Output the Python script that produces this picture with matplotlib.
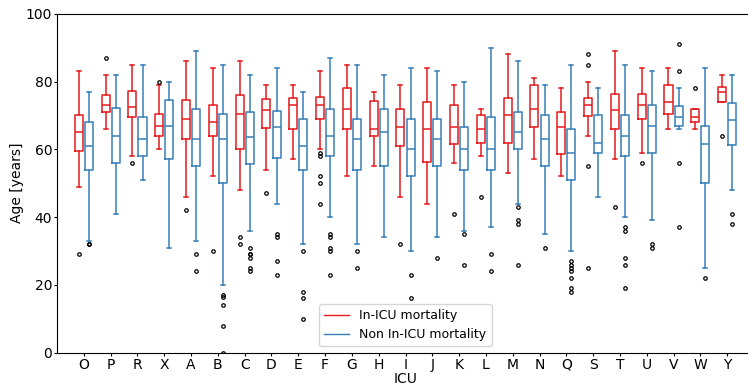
import matplotlib
matplotlib.use("Agg")
import matplotlib.pyplot as plt
from matplotlib.lines import Line2D

icus = ["O", "P", "R", "X", "A", "B", "C", "D", "E", "F", "G", "H", "I",
        "J", "K", "L", "M", "N", "Q", "S", "T", "U", "V", "W", "Y"]

# in-ICU mortality: whisker low, q1, median, q3, whisker high, outliers
dead_lo = [49, 66, 58, 60, 46, 52, 48, 54, 57, 60, 52, 55, 46,
           44, 56, 58, 53, 57, 52, 64, 57, 59, 66, 66, 74]
dead_q1 = [59.5, 71, 69.4, 64, 63, 63.8, 60, 66.3, 66, 69, 66, 64, 61,
           56.4, 61.5, 62, 62, 66.5, 58.7, 69.7, 66, 68.8, 70.5, 68.2, 74]
dead_med = [65, 73, 72.6, 67, 69, 68, 70.5, 71.5, 73, 73, 72, 66, 66.5,
            66, 66.5, 66, 70, 72, 66.5, 73, 71.5, 73, 74, 69.6, 77]
dead_q3 = [70, 76, 77.3, 70.3, 74.5, 73, 76, 74.7, 75, 75.5, 78, 74.2, 72,
           74, 73, 70, 75, 79, 71, 75, 76.2, 76.2, 79, 72, 78.5]
dead_hi = [83, 82, 85, 79, 86, 84, 86, 79, 79, 83, 85, 77, 79,
           84, 79, 72, 88, 81, 78, 80, 89, 84, 84, 72, 82]
dead_out = [[29], [87], [56], [80], [42], [30], [34, 32], [47], [], [59, 58, 52, 50, 44], [], [], [32],
            [], [41], [46], [], [], [], [88, 85, 55, 25], [43], [56], [], [78], [64]]

# survivors
alive_lo = [33, 41, 51, 31, 33, 20, 36, 44, 32, 40, 32, 34, 30,
            34, 36, 37, 44, 35, 30, 46, 40, 39, 66, 25, 48]
alive_q1 = [54, 56, 58, 57, 55, 50, 55.8, 57.5, 54, 58, 54, 55, 52,
            55, 54, 54, 60, 55, 51, 59, 58, 59, 67, 50, 61.2]
alive_med = [61, 64, 63, 67, 63, 63, 63.5, 66.5, 61, 64, 63, 65, 60,
             63, 60, 60, 65, 63, 59, 62, 64, 67, 69.4, 61.5, 68.5]
alive_q3 = [68, 72.3, 69.4, 74.5, 72, 70.5, 71, 71.3, 69, 72, 69, 72, 69,
            69, 66.5, 69.4, 71, 70, 66, 70, 70, 73, 72.7, 67, 73.7]
alive_hi = [77, 82, 85, 80, 89, 85, 82, 84, 77, 87, 85, 82, 84,
            83, 80, 90, 86, 79, 85, 78, 85, 83, 78, 84, 82]
alive_out = [[32, 32], [], [], [], [29, 24], [17, 16.4, 14, 8, 0], [31, 29, 29, 28, 25, 24],
             [35, 34, 27, 23], [30, 18, 16, 10], [35, 34, 31, 30, 23], [30, 25], [], [23, 16],
             [28], [35, 26], [29, 24], [43, 39, 38, 26], [31], [27, 26, 25, 24, 22, 19, 18],
             [], [37, 36, 28, 26, 19], [32, 31], [91, 83, 56, 37], [22], [41, 38]]

RED = "#e41a1c"
BLUE = "#377eb8"


def make_stats(lo, q1, med, q3, hi, out):
    return [dict(whislo=a, q1=b, med=c, q3=d, whishi=e, fliers=f)
            for a, b, c, d, e, f in zip(lo, q1, med, q3, hi, out)]


def style(color):
    return dict(
        boxprops=dict(color=color, linewidth=1.1),
        medianprops=dict(color=color, linewidth=1.1),
        whiskerprops=dict(color=color, linewidth=1.1),
        capprops=dict(color=color, linewidth=1.1),
        flierprops=dict(marker="o", markersize=2.5, markerfacecolor="none",
                        markeredgecolor="black", markeredgewidth=0.9),
    )


fig = plt.figure(figsize=(7.48, 3.9), dpi=100)
ax = fig.add_axes([57 / 748, 37.3 / 390, 697 / 748, 339 / 390])

pos = list(range(1, len(icus) + 1))
off = 0.19
ax.bxp(make_stats(dead_lo, dead_q1, dead_med, dead_q3, dead_hi, dead_out),
       positions=[p - off for p in pos], widths=0.3, manage_ticks=False,
       **style(RED))
ax.bxp(make_stats(alive_lo, alive_q1, alive_med, alive_q3, alive_hi, alive_out),
       positions=[p + off for p in pos], widths=0.3, manage_ticks=False,
       **style(BLUE))

ax.set_xlim(0, len(icus) + 1)
ax.set_ylim(0, 100)
ax.set_xticks(pos)
ax.set_xticklabels(icus)
ax.set_yticks([0, 20, 40, 60, 80, 100])
ax.tick_params(labelsize=10, length=2, pad=1.5)
ax.set_xlabel("ICU", fontsize=10, labelpad=0)
ax.set_ylabel("Age [years]", fontsize=10, labelpad=1)

handles = [Line2D([], [], color=RED, linewidth=1),
           Line2D([], [], color=BLUE, linewidth=1)]
ax.legend(handles, ["In-ICU mortality", "Non In-ICU mortality"],
          loc="lower center", fontsize=9)

fig.savefig("out.png", dpi=100)
